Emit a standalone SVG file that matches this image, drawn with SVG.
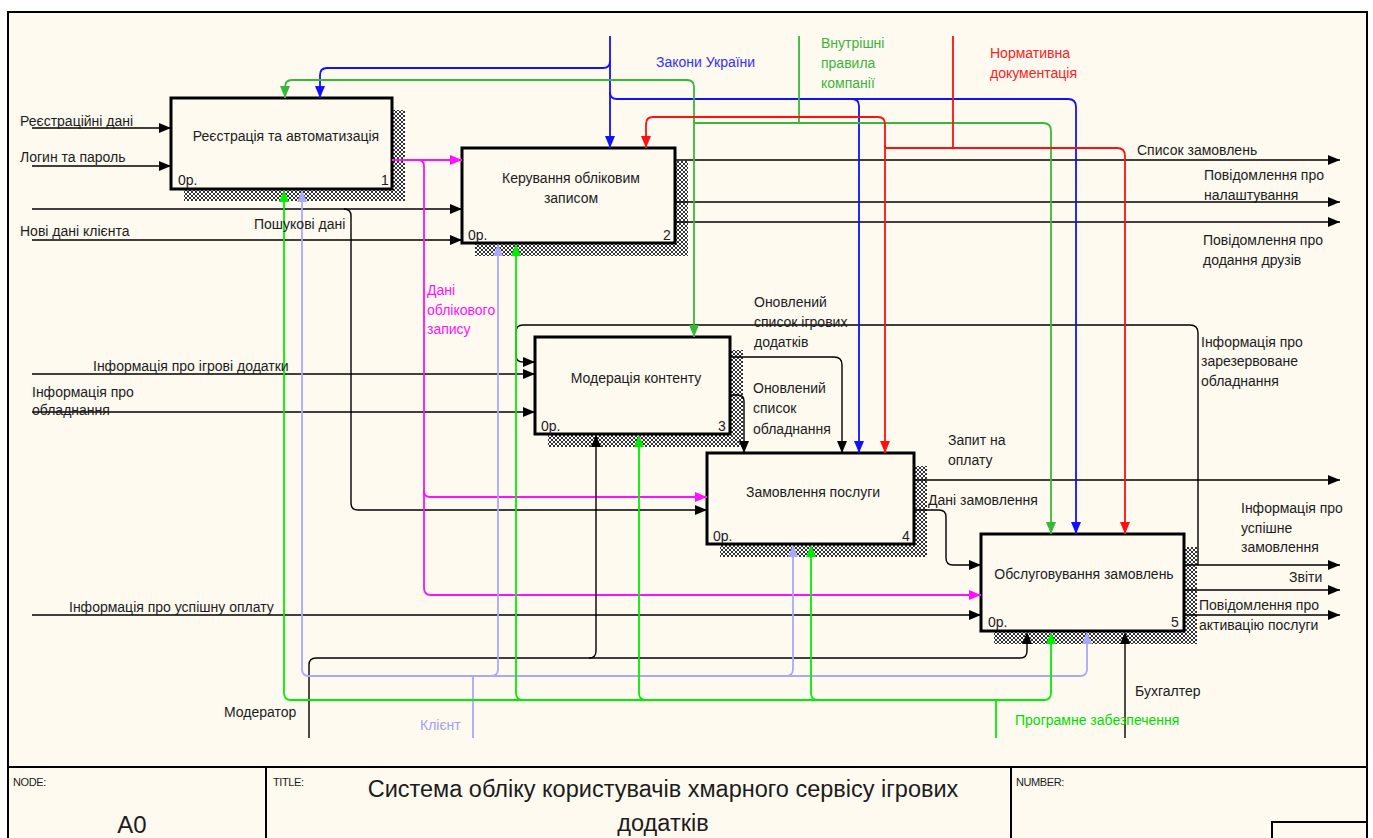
<svg xmlns="http://www.w3.org/2000/svg" xmlns:xlink="http://www.w3.org/1999/xlink" width="1373" height="838" viewBox="0 0 1373 838">
<defs>
<style>
.lbl{font-family:"Liberation Sans",Arial,sans-serif;font-size:14px;fill:#1c1c1c}
.bt{font-family:"Liberation Sans",Arial,sans-serif;font-size:14px;fill:#1c1c1c;text-anchor:middle}
.num{font-family:"Liberation Sans",Arial,sans-serif;font-size:14px;fill:#1c1c1c}
.box{fill:#FEFAF0;stroke:#000;stroke-width:3}
.shadow{fill:url(#hatch)}
.frame{fill:none;stroke:#000;stroke-width:2}
.k{fill:none;stroke:#000;stroke-width:1.4}
.b{fill:none;stroke:#1010FF;stroke-width:1.8}
.r{fill:none;stroke:#FF1010;stroke-width:1.8}
.g{fill:none;stroke:#38B838;stroke-width:1.8}
.gm{fill:none;stroke:#00EE00;stroke-width:1.8}
.lv{fill:none;stroke:#A8A8FF;stroke-width:1.8}
.m{fill:none;stroke:#FF10FF;stroke-width:1.8}
.hk{fill:#000}
.hgm{fill:#00EE00}
.hlv{fill:#A8A8FF}
.tb{fill:#3030FF}
.tr{fill:#FF2020}
.tg{fill:#3CB43C}
.tgm{fill:#00DD00}
.tlv{fill:#A0A0F0}
.tm{fill:#FF10FF}
.small{font-family:"Liberation Sans",Arial,sans-serif;font-size:11px;fill:#1c1c1c;letter-spacing:-0.4px}
.title{font-family:"Liberation Sans",Arial,sans-serif;font-size:23.5px;fill:#1c1c1c;text-anchor:middle}
</style>
<pattern id="hatch" width="4" height="4" patternUnits="userSpaceOnUse">
<rect width="4" height="4" fill="#fff"/>
<path d="M0,0 L4,4 M4,0 L0,4" stroke="#000" stroke-width="0.8"/>
</pattern>
<!-- upward arrowhead for mechanism arrows, tip at origin -->
<path id="up" d="M0,0 L-5,12 L5,12 z"/>
<marker id="ak" markerUnits="userSpaceOnUse" markerWidth="14" markerHeight="12" refX="12" refY="5" orient="auto"><path d="M0,0 L12,5 L0,10 z" fill="#000"/></marker>
<marker id="ab" markerUnits="userSpaceOnUse" markerWidth="14" markerHeight="12" refX="12" refY="5" orient="auto"><path d="M0,0 L12,5 L0,10 z" fill="#1010FF"/></marker>
<marker id="ar" markerUnits="userSpaceOnUse" markerWidth="14" markerHeight="12" refX="12" refY="5" orient="auto"><path d="M0,0 L12,5 L0,10 z" fill="#FF1010"/></marker>
<marker id="ag" markerUnits="userSpaceOnUse" markerWidth="14" markerHeight="12" refX="12" refY="5" orient="auto"><path d="M0,0 L12,5 L0,10 z" fill="#38B838"/></marker>
<marker id="am" markerUnits="userSpaceOnUse" markerWidth="14" markerHeight="12" refX="12" refY="5" orient="auto"><path d="M0,0 L12,5 L0,10 z" fill="#FF10FF"/></marker>
</defs>

<!-- sheet -->
<rect width="1373" height="838" fill="#fff"/>
<rect x="8" y="12" width="1359" height="830" fill="#FEFAF0"/>
<g id="frame">
<rect class="frame" x="8" y="12" width="1359" height="830"/>
<line class="frame" x1="8" y1="767" x2="1367" y2="767"/>
<line class="frame" x1="266" y1="767" x2="266" y2="838"/>
<line class="frame" x1="1011" y1="767" x2="1011" y2="838"/>
<path class="frame" d="M1272,840 V822 H1367"/>
<text class="small" x="13" y="786">NODE:</text>
<text class="small" x="273" y="786">TITLE:</text>
<text class="small" x="1016" y="786">NUMBER:</text>
<text x="132" y="833" font-family="Liberation Sans, Arial, sans-serif" font-size="24" fill="#1c1c1c" text-anchor="middle">A0</text>
<text class="title" x="663" y="797">Система обліку користувачів хмарного сервісу ігрових</text>
<text class="title" x="663" y="831">додатків</text>
</g>

<!-- activity boxes -->
<g id="box1">
<rect class="shadow" x="184" y="110" width="221" height="91"/>
<rect class="box" x="171" y="98" width="221" height="91"/>
<text class="bt" x="286" y="141">Реєстрація та автоматизація</text>
<text class="num" x="178" y="185">0р.</text>
<text class="num" x="381" y="185">1</text>
</g>
<g id="box2">
<rect class="shadow" x="475" y="161" width="213" height="95"/>
<rect class="box" x="462" y="148" width="213" height="95"/>
<text class="bt" x="571" y="183">Керування обліковим</text>
<text class="bt" x="571" y="203">записом</text>
<text class="num" x="468" y="240">0р.</text>
<text class="num" x="663" y="240">2</text>
</g>
<g id="box3">
<rect class="shadow" x="548" y="350" width="195" height="97"/>
<rect class="box" x="535" y="337" width="195" height="97"/>
<text class="bt" x="636" y="383">Модерація контенту</text>
<text class="num" x="541" y="431">0р.</text>
<text class="num" x="718" y="431">3</text>
</g>
<g id="box4">
<rect class="shadow" x="720" y="466" width="207" height="91"/>
<rect class="box" x="707" y="453" width="207" height="91"/>
<text class="bt" x="813" y="497">Замовлення послуги</text>
<text class="num" x="713" y="541">0р.</text>
<text class="num" x="902" y="541">4</text>
</g>
<g id="box5">
<rect class="shadow" x="994" y="547" width="203" height="97"/>
<rect class="box" x="981" y="534" width="203" height="97"/>
<text class="bt" x="1084" y="579">Обслуговування замовлень</text>
<text class="num" x="988" y="627">0р.</text>
<text class="num" x="1171" y="627">5</text>
</g>

<!-- arrows -->
<g id="connectors">
<!-- inputs -->
<path class="k" d="M32,128 H171" marker-end="url(#ak)"/>
<path class="k" d="M32,166 H171" marker-end="url(#ak)"/>
<path class="k" d="M32,209 H462" marker-end="url(#ak)"/>
<path class="k" d="M344,209 Q351,209 351,216 V503 Q351,510 358,510 H707" marker-end="url(#ak)"/>
<path class="k" d="M32,240 H462" marker-end="url(#ak)"/>
<path class="k" d="M32,374 H535" marker-end="url(#ak)"/>
<path class="k" d="M32,412 H535" marker-end="url(#ak)"/>
<path class="k" d="M32,615 H981" marker-end="url(#ak)"/>
<!-- box 1 output -->
<path class="m" d="M392,160 H462" marker-end="url(#am)"/>
<path class="m" d="M418,160 Q424,160 424,166 V491 Q424,497 430,497 H707" marker-end="url(#am)"/>
<path class="m" d="M424,490 V588 Q424,595 431,595 H981" marker-end="url(#am)"/>
<!-- box 2 outputs -->
<path class="k" d="M675,160 H1340" marker-end="url(#ak)"/>
<path class="k" d="M675,202 H1340" marker-end="url(#ak)"/>
<path class="k" d="M675,222 H1340" marker-end="url(#ak)"/>
<!-- box 3 outputs -->
<path class="k" d="M730,357 H834 Q842,357 842,365 V453" marker-end="url(#ak)"/>
<path class="k" d="M730,395 H738 Q744,395 744,401 V453" marker-end="url(#ak)"/>
<!-- box 4 outputs -->
<path class="k" d="M914,480 H1340" marker-end="url(#ak)"/>
<path class="k" d="M914,510 H939 Q946,510 946,517 V558 Q946,565 953,565 H981" marker-end="url(#ak)"/>
<!-- box 5 outputs -->
<path class="k" d="M1184,565 H1340" marker-end="url(#ak)"/>
<path class="k" d="M1184,590 H1340" marker-end="url(#ak)"/>
<path class="k" d="M1184,615 H1340" marker-end="url(#ak)"/>
<path class="k" d="M1198,565 V333 Q1198,325 1190,325 H523 Q516,325 516,332 V355 Q516,362 523,362 H535" marker-end="url(#ak)"/>
<!-- controls: laws -->
<path class="b" d="M610,36 V148" marker-end="url(#ab)"/>
<path class="b" d="M610,61 Q610,68 603,68 H327 Q320,68 320,75 V98" marker-end="url(#ab)"/>
<path class="b" d="M610,92 Q610,99 617,99 H1068 Q1076,99 1076,107 V534" marker-end="url(#ab)"/>
<path class="b" d="M852,99 Q859,99 859,106 V453" marker-end="url(#ab)"/>
<!-- controls: internal rules -->
<path class="g" d="M799,36 V123 M694,123 H1043 Q1051,123 1051,131 V534" marker-end="url(#ag)"/>
<path class="g" d="M694,123 V87 Q694,80 687,80 H292 Q285,80 285,87 V98" marker-end="url(#ag)"/>
<path class="g" d="M694,120 V337" marker-end="url(#ag)"/>
<!-- controls: regulations -->
<path class="r" d="M953,36 V148 M885,148 H1117 Q1125,148 1125,156 V534" marker-end="url(#ar)"/>
<path class="r" d="M885,145 V453" marker-end="url(#ar)"/>
<path class="r" d="M885,148 V124 Q885,117 878,117 H653 Q646,117 646,124 V148" marker-end="url(#ar)"/>
<!-- mechanisms: moderator -->
<path class="k" d="M309,738 V665 Q309,658 316,658 H1020 Q1027,658 1027,651 V640"/>
<path class="k" d="M589,658 Q596,658 596,651 V443"/>
<!-- mechanisms: accountant -->
<path class="k" d="M1125,738 V640"/>
<!-- mechanisms: client -->
<path class="lv" d="M473,738 V676 M309,676 H1080"/>
<path class="lv" d="M309,676 Q302,676 302,669 V198"/>
<path class="lv" d="M491,676 Q498,676 498,669 V252"/>
<path class="lv" d="M786,676 Q793,676 793,669 V553"/>
<path class="lv" d="M1080,676 Q1087,676 1087,669 V640"/>
<!-- mechanisms: software -->
<path class="gm" d="M996,738 V700 M291,700 H1044"/>
<path class="gm" d="M291,700 Q284,700 284,693 V198"/>
<path class="gm" d="M523,700 Q516,700 516,693 V252"/>
<path class="gm" d="M646,700 Q639,700 639,693 V443"/>
<path class="gm" d="M818,700 Q811,700 811,693 V553"/>
<path class="gm" d="M1044,700 Q1051,700 1051,693 V640"/>
<!-- mechanism arrowheads -->
<use xlink:href="#up" href="#up" class="hgm" x="284" y="190"/>
<use xlink:href="#up" href="#up" class="hlv" x="302" y="190"/>
<use xlink:href="#up" href="#up" class="hlv" x="498" y="244"/>
<use xlink:href="#up" href="#up" class="hgm" x="516" y="244"/>
<use xlink:href="#up" href="#up" class="hk" x="596" y="435"/>
<use xlink:href="#up" href="#up" class="hgm" x="639" y="435"/>
<use xlink:href="#up" href="#up" class="hlv" x="793" y="545"/>
<use xlink:href="#up" href="#up" class="hgm" x="811" y="545"/>
<use xlink:href="#up" href="#up" class="hk" x="1027" y="632"/>
<use xlink:href="#up" href="#up" class="hgm" x="1051" y="632"/>
<use xlink:href="#up" href="#up" class="hlv" x="1087" y="632"/>
<use xlink:href="#up" href="#up" class="hk" x="1125" y="632"/>

<!-- arrow labels -->
<text class="lbl" x="20" y="126">Реєстраційні дані</text>
<text class="lbl" x="20" y="162">Логин та пароль</text>
<text class="lbl" x="254" y="229">Пошукові дані</text>
<text class="lbl" x="20" y="236">Нові дані клієнта</text>
<text class="lbl" x="93" y="371">Інформація про ігрові додатки</text>
<text class="lbl" x="32" y="397">Інформація про</text>
<text class="lbl" x="32" y="415">обладнання</text>
<text class="lbl" x="69" y="612">Інформація про успішну оплату</text>
<text class="lbl tm" x="427" y="295">Дані</text>
<text class="lbl tm" x="427" y="315">облікового</text>
<text class="lbl tm" x="427" y="334">запису</text>
<text class="lbl tb" x="656" y="67">Закони України</text>
<text class="lbl tg" x="821" y="48">Внутрішні</text>
<text class="lbl tg" x="821" y="68">правила</text>
<text class="lbl tg" x="821" y="88">компанії</text>
<text class="lbl tr" x="990" y="58">Нормативна</text>
<text class="lbl tr" x="990" y="78">документація</text>
<text class="lbl" x="1137" y="155">Список замовлень</text>
<text class="lbl" x="1204" y="180">Повідомлення про</text>
<text class="lbl" x="1204" y="200">налаштування</text>
<text class="lbl" x="1203" y="245">Повідомлення про</text>
<text class="lbl" x="1203" y="265">додання друзів</text>
<text class="lbl" x="754" y="307">Оновлений</text>
<text class="lbl" x="754" y="327">список ігрових</text>
<text class="lbl" x="754" y="347">додатків</text>
<text class="lbl" x="753" y="393">Оновлений</text>
<text class="lbl" x="753" y="413">список</text>
<text class="lbl" x="753" y="434">обладнання</text>
<text class="lbl" x="1201" y="347">Інформація про</text>
<text class="lbl" x="1201" y="366">зарезервоване</text>
<text class="lbl" x="1201" y="386">обладнання</text>
<text class="lbl" x="948" y="445">Запит на</text>
<text class="lbl" x="948" y="465">оплату</text>
<text class="lbl" x="928" y="505">Дані замовлення</text>
<text class="lbl" x="1241" y="513">Інформація про</text>
<text class="lbl" x="1241" y="533">успішне</text>
<text class="lbl" x="1241" y="552">замовлення</text>
<text class="lbl" x="1289" y="582">Звіти</text>
<text class="lbl" x="1199" y="610">Повідомлення про</text>
<text class="lbl" x="1199" y="630">активацію послуги</text>
<text class="lbl" x="224" y="717">Модератор</text>
<text class="lbl tlv" x="420" y="730">Клієнт</text>
<text class="lbl" x="1135" y="696">Бухгалтер</text>
<text class="lbl tgm" x="1015" y="725">Програмне забезпечення</text>
</g>
</svg>
